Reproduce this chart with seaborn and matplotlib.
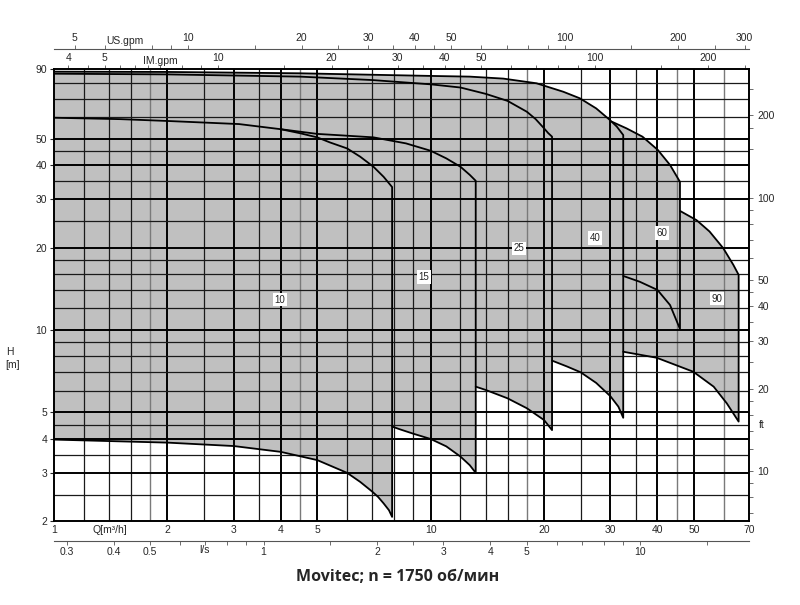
import pandas as pd
import matplotlib
matplotlib.use('Agg')
import matplotlib.pyplot as plt
import seaborn as sns
from matplotlib.ticker import FixedLocator, NullFormatter, NullLocator

sns.set_style('white')
plt.rcParams['font.family'] = ['Liberation Sans', 'DejaVu Sans']

# --- кривые Q-H (Q в м3/ч, H в м), по семействам насосов ---
f10_q_top = [1, 1.5, 2, 3.1, 4, 4.5, 5, 5.4, 6, 6.5, 7.05, 7.5, 7.9]
f10_h_top = [59.7, 59.0, 58.1, 56.6, 54.2, 52.4, 50.6, 48.5, 46.1, 43.0, 39.5, 36.3, 33.3]
f10_q_bot = [1, 2, 3, 4, 5, 6, 6.5, 7, 7.25, 7.5, 7.75, 7.9]
f10_h_bot = [3.97, 3.87, 3.76, 3.58, 3.34, 3.0, 2.78, 2.56, 2.45, 2.32, 2.19, 2.07]

f15_q_top = [4, 5, 5.75, 7.05, 8.6, 10, 11, 12, 12.7, 13.17]
f15_h_top = [54.2, 52.1, 51.5, 50.6, 48.1, 45.2, 42.4, 39.5, 36.9, 35.1]
f15_q_bot = [7.9, 8.28, 9, 10, 11, 12, 12.7, 13.17]
f15_h_bot = [4.43, 4.33, 4.17, 3.99, 3.75, 3.44, 3.2, 3.0]

f25_q_top = [1, 2, 4.5, 7, 10, 12, 14, 16, 18, 19, 20, 20.5, 21]
f25_h_top = [86.5, 86.0, 84.4, 82.0, 79.1, 77.0, 73.0, 68.8, 62.8, 59.0, 54.6, 52.5, 50.9]
f25_q_bot = [13.17, 14, 16, 18, 20, 21]
f25_h_bot = [6.2, 6.03, 5.62, 5.17, 4.68, 4.3]

f40_q_top = [1, 2, 4.5, 10, 12.7, 15.6, 19.1, 22.5, 24.9, 27.5, 29.9, 31.2, 32.45]
f40_h_top = [88.0, 87.8, 86.8, 84.9, 84.4, 83.0, 79.8, 74.3, 70.3, 64.6, 58.6, 55.4, 51.6]
f40_q_bot = [21, 23, 25, 27.5, 30, 31.5, 32.45]
f40_h_bot = [7.72, 7.35, 7.0, 6.4, 5.72, 5.24, 4.77]

f60_q_top = [30.3, 33.1, 36.5, 40.1, 43.2, 45.9]
f60_h_top = [57.7, 54.6, 50.9, 45.5, 40.1, 34.8]
f60_q_bot = [32.45, 35.9, 40, 43.2, 45.9]
f60_h_bot = [15.75, 15.0, 14.0, 12.33, 10.08]

f90_q_top = [46, 50.8, 55, 59.8, 63.6, 65.7]
f90_h_top = [27.2, 25.2, 22.9, 19.9, 17.3, 15.9]
f90_q_bot = [32.45, 39.8, 49.8, 56.4, 61.1, 65.7]
f90_h_bot = [8.32, 7.91, 7.03, 6.2, 5.39, 4.62]

family_names = ['10', '15', '25', '40', '60', '90']

# --- сетка и подписи осей ---
grid_q_major = [2, 3, 4, 5, 10, 20, 30, 40, 50]
grid_q_minor = [1.2, 1.4, 1.6, 2.5, 3.5, 6, 7, 8, 9, 12, 14, 16, 25, 35]
grid_q_gray = [1.8, 4.5, 18, 45, 60]
grid_h_major = [3, 4, 5, 10, 20, 30, 40, 50]
grid_h_minor = [2.5, 3.5, 4.5, 6, 7, 8, 9, 12, 14, 16, 18, 25, 35, 45, 60, 70, 80]

q_ticks = [1, 2, 3, 4, 5, 10, 20, 30, 40, 50, 70]
h_ticks = [2, 3, 4, 5, 10, 20, 30, 40, 50, 90]
ls_ticks = [0.3, 0.4, 0.5, 1, 2, 3, 4, 5, 10]
ls_minor = [0.6, 0.7, 0.8, 0.9, 1.5, 2.5, 6, 7, 8, 9, 15]
im_ticks = [4, 5, 10, 20, 30, 40, 50, 100, 200]
im_minor = [4.5, 5.5, 6, 6.5, 7, 8, 9, 15, 25, 35, 45, 60, 70, 80, 90, 150, 250]
us_ticks = [5, 10, 20, 30, 40, 50, 100, 200, 300]
us_minor = [6, 7, 8, 9, 15, 25, 35, 45, 60, 70, 80, 90, 150, 250]
ft_ticks = [10, 20, 30, 40, 50, 100, 200]
ft_minor = [7, 8, 9, 12, 14, 16, 18, 25, 35, 45, 60, 70, 80, 90, 150, 180, 250]

fs = 7.5
fig = plt.figure(figsize=(8, 6.05), dpi=100)
ax = fig.add_axes([54 / 800, 84 / 605, 695 / 800, 452 / 605])
ax.set_xscale('log')
ax.set_yscale('log')

families = [
    (f10_q_top, f10_h_top, f10_q_bot, f10_h_bot),
    (f15_q_top, f15_h_top, f15_q_bot, f15_h_bot),
    (f25_q_top, f25_h_top, f25_q_bot, f25_h_bot),
    (f40_q_top, f40_h_top, f40_q_bot, f40_h_bot),
    (f60_q_top, f60_h_top, f60_q_bot, f60_h_bot),
    (f90_q_top, f90_h_top, f90_q_bot, f90_h_bot),
]

# заливка рабочих полей; левый край каждого поля замыкается по соседнему полю
for i, (name, (qt, ht, qb, hb)) in enumerate(zip(family_names, families)):
    fq = qt + qb[::-1]
    fh = ht + hb[::-1]
    if name in ('25', '40'):
        pq_t, ph_t = families[i - 1][0], families[i - 1][1]
        if name == '25':
            pq_t, ph_t = f15_q_top, f15_h_top
            fq = fq + [pq_t[-1], f10_q_top[0]]
            fh = fh + [ph_t[-1], f10_h_top[0]]
        else:
            fq = fq + [pq_t[-1], pq_t[0]]
            fh = fh + [ph_t[-1], ph_t[0]]
    if name == '90':
        fq = f60_q_bot + fq
        fh = f60_h_bot + fh
    ax.fill(fq, fh, color='#c0c0c0', lw=0, zorder=1)

# сетка
for q in grid_q_major:
    ax.axvline(q, color='black', lw=1.4, zorder=2)
for q in grid_q_minor:
    ax.axvline(q, color='#1a1a1a', lw=0.9, zorder=2)
for q in grid_q_gray:
    ax.axvline(q, color='#7a7a7a', lw=1.0, zorder=2)
for h in grid_h_major:
    ax.axhline(h, color='black', lw=1.4, zorder=2)
for h in grid_h_minor:
    ax.axhline(h, color='#1a1a1a', lw=0.9, zorder=2)

# контуры полей
for name, (qt, ht, qb, hb) in zip(family_names, families):
    df = pd.DataFrame({'Q': qt + qb[::-1], 'H': ht + hb[::-1]})
    sns.lineplot(data=df, x='Q', y='H', sort=False, estimator=None,
                 color='black', lw=1.3, ax=ax, zorder=3)

label_pos = {'10': (3.98, 12.9), '15': (9.6, 15.6), '25': (17.2, 19.9),
             '40': (27.3, 21.7), '60': (41.1, 22.6), '90': (57.5, 13.0)}
for name in family_names:
    q, h = label_pos[name]
    ax.text(q, h, name, fontsize=7, ha='center', va='center', zorder=4,
            bbox=dict(facecolor='white', edgecolor='none', pad=1.2))

ax.set_xlim(1, 70)
ax.set_ylim(2, 90)
ax.set_xlabel('')
ax.set_ylabel('')
for s in ax.spines.values():
    s.set_visible(True)
    s.set_color('black')
    s.set_linewidth(1.4)

ax.xaxis.set_major_locator(FixedLocator(q_ticks))
ax.xaxis.set_minor_locator(NullLocator())
ax.set_xticklabels([str(v) for v in q_ticks])
ax.tick_params(axis='x', length=0, pad=3, labelsize=fs)
ax.yaxis.set_major_locator(FixedLocator(h_ticks))
ax.yaxis.set_minor_locator(NullLocator())
ax.set_yticklabels([str(v) for v in h_ticks])
ax.tick_params(axis='y', length=3, width=0.8, pad=2, labelsize=fs, left=True)

# l/s снизу
sec_ls = ax.secondary_xaxis(-20 / 452, functions=(lambda q: q / 3.6, lambda v: v * 3.6))
sec_ls.set_ticks(ls_ticks, labels=[str(v) for v in ls_ticks])
sec_ls.xaxis.set_minor_locator(FixedLocator(ls_minor))
sec_ls.xaxis.set_minor_formatter(NullFormatter())
sec_ls.tick_params(which='both', length=3, width=0.6, pad=1, labelsize=fs, color='#555555')
sec_ls.spines['bottom'].set_color('#555555')

# IM.gpm сверху
sec_im = ax.secondary_xaxis('top', functions=(lambda q: q * 3.666, lambda v: v / 3.666))
sec_im.set_ticks(im_ticks, labels=[str(v) for v in im_ticks])
sec_im.xaxis.set_minor_locator(FixedLocator(im_minor))
sec_im.xaxis.set_minor_formatter(NullFormatter())
sec_im.tick_params(which='both', length=3, width=0.6, pad=1, labelsize=fs, color='#555555')
sec_im.spines['top'].set_visible(False)

# US.gpm сверху
sec_us = ax.secondary_xaxis(1 + 20 / 452, functions=(lambda q: q * 4.4029, lambda v: v / 4.4029))
sec_us.set_ticks(us_ticks, labels=[str(v) for v in us_ticks])
sec_us.xaxis.set_minor_locator(FixedLocator(us_minor))
sec_us.xaxis.set_minor_formatter(NullFormatter())
sec_us.tick_params(which='both', length=3, width=0.6, pad=1, labelsize=fs, color='#555555')
sec_us.spines['top'].set_color('#555555')

# ft справа
sec_ft = ax.secondary_yaxis('right', functions=(lambda m: m * 3.2808, lambda v: v / 3.2808))
sec_ft.set_ticks(ft_ticks, labels=[str(v) for v in ft_ticks])
sec_ft.yaxis.set_minor_locator(FixedLocator(ft_minor))
sec_ft.yaxis.set_minor_formatter(NullFormatter())
sec_ft.tick_params(which='both', length=3, width=0.6, pad=3, labelsize=fs, color='#555555')
sec_ft.spines['right'].set_visible(False)

# подписи единиц
fig.text(110 / 800, 1 - 530 / 605, 'Q[m³/h]', fontsize=fs, ha='center', va='center')
fig.text(205 / 800, 1 - 550 / 605, 'l/s', fontsize=fs, ha='center', va='center')
fig.text(160 / 800, 1 - 61 / 605, 'IM.gpm', fontsize=fs, ha='center', va='center')
fig.text(125 / 800, 1 - 41 / 605, 'US.gpm', fontsize=fs, ha='center', va='center')
fig.text(762 / 800, 1 - 425 / 605, 'ft', fontsize=fs, ha='center', va='center')
fig.text(6 / 800, 1 - 352 / 605, 'H', fontsize=fs, ha='left', va='center')
fig.text(5 / 800, 1 - 365 / 605, '[m]', fontsize=fs, ha='left', va='center')

fig.text(398 / 800, 1 - 577 / 605, 'Movitec; n = 1750 об/мин', fontsize=11.5,
         fontweight='bold', ha='center', va='center', family=['Open Sans', 'DejaVu Sans'])

fig.savefig('out.png', dpi=100, facecolor='white')
